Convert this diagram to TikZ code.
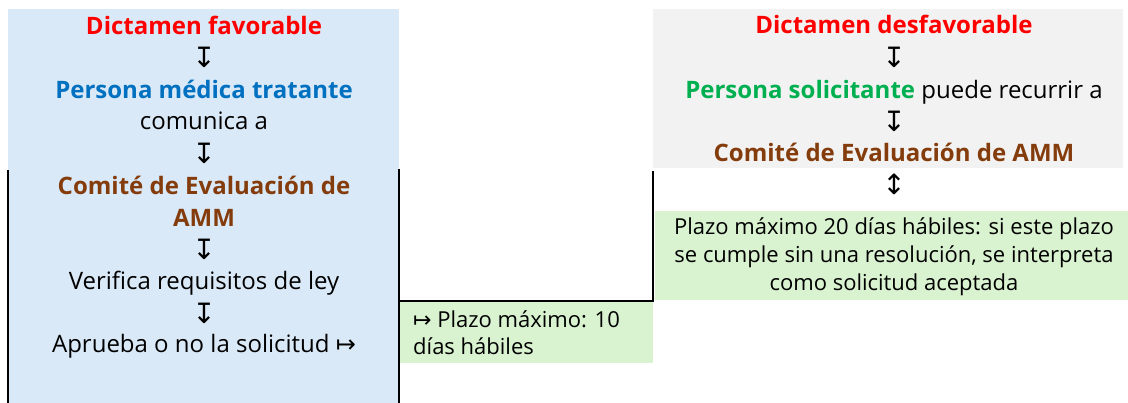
\documentclass[tikz,border=0pt]{standalone}
\usepackage{fontspec}
\setmainfont{Open Sans}
\newfontfamily\symfont{DejaVu Sans}
\definecolor{favred}{HTML}{FF0000}
\definecolor{medblue}{HTML}{0070C0}
\definecolor{comitebrown}{HTML}{843C0C}
\definecolor{solgreen}{HTML}{00B050}
\definecolor{cellblue}{HTML}{DAE9F7}
\definecolor{cellgray}{HTML}{F2F2F2}
\definecolor{cellgreen}{HTML}{D9F2D0}
\tikzset{
  hd/.style={anchor=base, inner sep=0pt, font=\fontsize{24}{32}\selectfont\bfseries},
  txt/.style={anchor=base, inner sep=0pt, font=\fontsize{24}{32}\selectfont},
  smalltxt/.style={anchor=base, inner sep=0pt, font=\fontsize{22}{28}\selectfont},
  notetxt/.style={anchor=base west, inner sep=0pt, font=\fontsize{22}{27}\selectfont},
  arw/.style={anchor=base, inner sep=0pt, font=\fontsize{28}{32}\symfont},
  rule/.style={line width=1.4pt}
}
\begin{document}
\begin{tikzpicture}[x=1pt,y=-1pt]
  \useasboundingbox (0,0) rectangle (1128,403);
  % cells
  \fill[cellblue] (8,9) rectangle (399,403);
  \fill[cellgray] (653,9) rectangle (1123,168);
  \fill[cellgreen] (655,211) rectangle (1128,300);
  \fill[cellgreen] (400,302) rectangle (653,363);
  % borders
  \draw[rule] (8,170) -- (8,403);
  \draw[rule] (399,169) -- (399,403);
  \draw[rule] (653,171) -- (653,301) -- (399,301);
  % favorable
  \path
    (204,35) node[hd, text=favred] (fav) {Dictamen favorable}
    (204,68) node[arw] (fav1) {↧}
    (204,99) node[hd, text=medblue] (med) {Persona médica tratante}
    (204,130) node[txt] (com) {comunica a}
    (204,164) node[arw] (fav2) {↧}
    (204,195) node[hd, text=comitebrown] (cem1) {Comité de Evaluación de}
    (204,227) node[hd, text=comitebrown] (cem2) {AMM}
    (204,260) node[arw] (fav3) {↧}
    (204,290) node[txt] (ver) {Verifica requisitos de ley}
    (204,324) node[arw] (fav4) {↧}
    (204,353) node[txt] (apr) {Aprueba o no la solicitud {\symfont ↦}};
  \path
    (413,328) node[notetxt] (plz1) {{\symfont ↦} Plazo máximo: 10}
    (413,355) node[notetxt] (plz2) {días hábiles};
  % desfavorable
  \path
    (894,34) node[hd, text=favred] (des) {Dictamen desfavorable}
    (894,68) node[arw] (des1) {↧}
    (894,99) node[txt] (sol) {\textcolor{solgreen}{\bfseries Persona solicitante} puede recurrir a}
    (894,132) node[arw] (des2) {↧}
    (894,162) node[hd, text=comitebrown] (cem3) {Comité de Evaluación de AMM}
    (894,195) node[arw] (des3) {↕}
    (894,235) node[smalltxt] (res1) {Plazo máximo 20 días hábiles: si este plazo}
    (894,263) node[smalltxt] (res2) {se cumple sin una resolución, se interpreta}
    (894,291) node[smalltxt] (res3) {como solicitud aceptada};
\end{tikzpicture}
\end{document}
